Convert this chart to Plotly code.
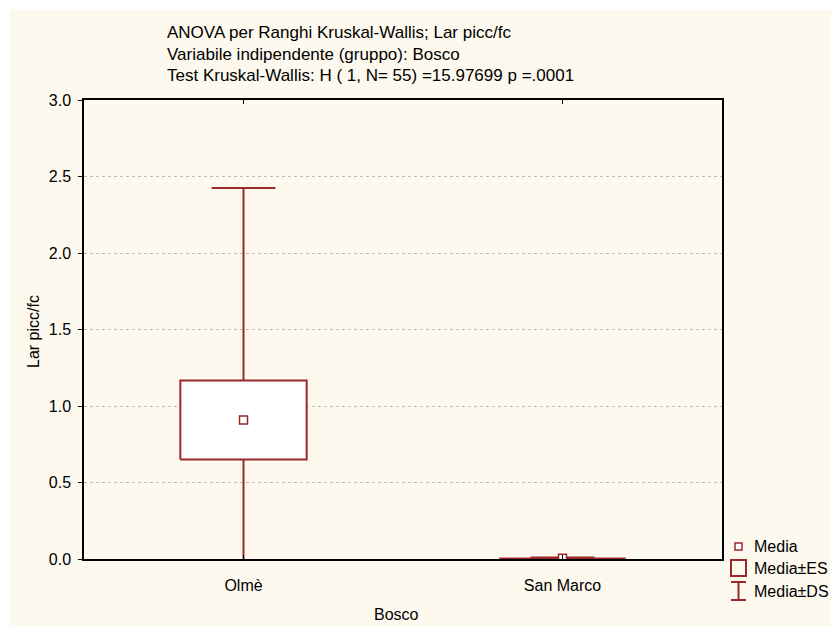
import plotly.graph_objects as go

# Group summary for Lar picc/fc by Bosco
gruppi = ["Olmè", "San Marco"]
media = [0.908, 0.005]
es = [0.258, 0.002]      # standard error
ds = [1.517, 0.004]      # standard deviation

y_ticks = [0.0, 0.5, 1.0, 1.5, 2.0, 2.5, 3.0]

ROSSO = "#9A2A2A"
CREMA = "#FDF9EE"
FONT = "Liberation Sans, Arial, sans-serif"

box_half = 0.198
cap_half = 0.1

fig = go.Figure()

for i, (m, e, d) in enumerate(zip(media, es, ds)):
    # mean ± SD whisker with caps
    fig.add_trace(go.Scatter(
        x=[i, i, None, i - cap_half, i + cap_half, None, i, i, None, i - cap_half, i + cap_half],
        y=[m + e, m + d, None, m + d, m + d, None, m - e, m - d, None, m - d, m - d],
        mode="lines", line=dict(color=ROSSO, width=2), hoverinfo="skip", showlegend=False))
    # mean ± SE box
    fig.add_trace(go.Scatter(
        x=[i - box_half, i + box_half, i + box_half, i - box_half, i - box_half],
        y=[m - e, m - e, m + e, m + e, m - e],
        mode="lines", fill="toself", fillcolor="white",
        line=dict(color=ROSSO, width=2), hoverinfo="skip", showlegend=False))
    # mean marker
    fig.add_trace(go.Scatter(
        x=[i], y=[m], mode="markers",
        marker=dict(symbol="square", size=8, color="white", line=dict(color=ROSSO, width=1.5)),
        hoverinfo="skip", showlegend=False))

# background: cream panel with a thin white strip at top and left
W, H = 831, 626
L, R, T, B = 84, 722, 100, 559
pw, ph = R - L, B - T
def px(x):
    return (x - L) / pw
def py(y):
    return (B - y) / ph

shapes = [dict(type="rect", xref="paper", yref="paper", x0=px(10), x1=px(W + 5),
               y0=py(H + 5), y1=py(10), fillcolor=CREMA, line=dict(width=0), layer="below")]

# legend drawn by hand
shapes += [
    dict(type="rect", xref="paper", yref="paper", x0=px(735), x1=px(742), y0=py(550), y1=py(543),
         line=dict(color=ROSSO, width=1.5), fillcolor="white"),
    dict(type="rect", xref="paper", yref="paper", x0=px(731), x1=px(746), y0=py(576), y1=py(560),
         line=dict(color=ROSSO, width=2), fillcolor="rgba(0,0,0,0)"),
    dict(type="line", xref="paper", yref="paper", x0=px(738.5), x1=px(738.5), y0=py(600), y1=py(582),
         line=dict(color=ROSSO, width=2)),
    dict(type="line", xref="paper", yref="paper", x0=px(731), x1=px(746), y0=py(582), y1=py(582),
         line=dict(color=ROSSO, width=2)),
    dict(type="line", xref="paper", yref="paper", x0=px(731), x1=px(746), y0=py(600), y1=py(600),
         line=dict(color=ROSSO, width=2)),
]

annotations = []
for txt, yy in [("Media", 546), ("Media±ES", 568), ("Media±DS", 591)]:
    annotations.append(dict(text=txt, xref="paper", yref="paper", x=px(752), y=py(yy),
                            xanchor="left", yanchor="middle", showarrow=False,
                            font=dict(family=FONT, size=16, color="black")))

titolo = ["ANOVA per Ranghi Kruskal-Wallis; Lar picc/fc",
          "Variabile indipendente (gruppo): Bosco",
          "Test Kruskal-Wallis: H ( 1, N= 55) =15.97699 p =.0001"]
for k, riga in enumerate(titolo):
    annotations.append(dict(text=riga, xref="paper", yref="paper", x=px(165), y=py(33 + 21.5 * k),
                            xanchor="left", yanchor="middle", showarrow=False,
                            font=dict(family=FONT, size=17, color="black")))

annotations.append(dict(text="Bosco", xref="paper", yref="paper", x=px(396), y=py(614),
                        xanchor="center", yanchor="middle", showarrow=False,
                        font=dict(family=FONT, size=16, color="black")))
annotations.append(dict(text="Lar picc/fc", xref="paper", yref="paper", x=px(33), y=py(332),
                        xanchor="center", yanchor="middle", showarrow=False, textangle=-90,
                        font=dict(family=FONT, size=16, color="black")))

fig.update_layout(
    width=W, height=H,
    margin=dict(l=L, r=W - R, t=T, b=H - B, pad=0),
    paper_bgcolor="white", plot_bgcolor="white",
    font=dict(family=FONT, size=16, color="black"),
    shapes=shapes, annotations=annotations,
    xaxis=dict(range=[-0.5, 1.5], tickvals=[0, 1], ticktext=gruppi,
               showgrid=False, zeroline=False, showline=True, linecolor="black", linewidth=1.5,
               mirror="ticks", ticks="inside", ticklen=4, tickcolor="black",
               ticklabelstandoff=11, tickfont=dict(size=16)),
    yaxis=dict(range=[0, 3], tickvals=y_ticks, ticktext=[f"{v:.1f}" for v in y_ticks],
               showgrid=True, gridcolor="#BDBDBD", griddash="dot", gridwidth=1,
               zeroline=False, showline=True, linecolor="black", linewidth=1.5,
               mirror=True, ticks="outside", ticklen=4, tickcolor="black",
               ticklabelstandoff=4),
)

fig.write_html("out.html")
